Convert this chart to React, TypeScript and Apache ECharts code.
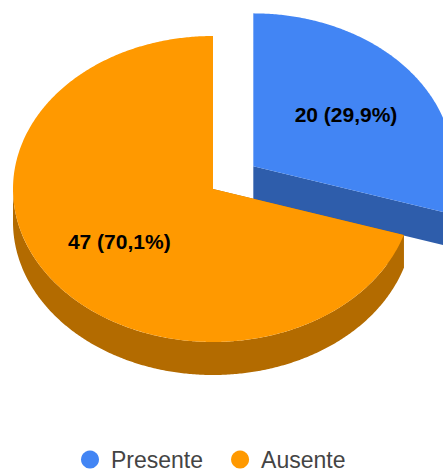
import React, { useEffect, useRef } from "react";
import * as echarts from "echarts";

// Attendance split shown as a tilted pie with one exploded slice
const categories = ["Presente", "Ausente"];
const values = [20, 47];
const topColors = ["#4285f4", "#ff9900"];
const sideColors = ["#2e5dab", "#b36b00"];

const total = values.reduce((a, b) => a + b, 0);
const CX = 213;
const CY = 189;
const RX = 200;
const RY = 153;
const DEPTH = 33;
const EXPLODE = 0.25;
const LABEL_RADIUS = 0.578;
const rad = (deg: number) => (deg * Math.PI) / 180;

function sliceAngles(index: number) {
  let start = 0;
  for (let i = 0; i < index; i++) start += (values[i] / total) * 360;
  return [start, start + (values[index] / total) * 360];
}

function renderSlice(index: number) {
  const [start, end] = sliceAngles(index);
  const mid = rad((start + end) / 2);
  const exploded = index === 0 ? EXPLODE : 0;
  const cx = CX + Math.sin(mid) * RX * exploded;
  const cy = CY - Math.cos(mid) * RY * exploded;
  const at = (deg: number, dy = 0) => [
    cx + Math.sin(rad(deg)) * RX,
    cy - Math.cos(rad(deg)) * RY + dy,
  ];
  const arc = (from: number, to: number, dy = 0) => {
    const pts: number[][] = [];
    const steps = Math.max(1, Math.ceil(Math.abs(to - from) * 2));
    for (let i = 0; i <= steps; i++) pts.push(at(from + ((to - from) * i) / steps, dy));
    return pts;
  };
  const poly = (points: number[][], fill: string) => ({
    type: "polygon",
    shape: { points },
    style: { fill },
    silent: true,
  });

  const side = sideColors[index];
  const children: any[] = [];
  // Cut faces running from the hub to the rim
  for (const deg of [start, end]) {
    children.push(
      poly([[cx, cy], at(deg), at(deg, DEPTH), [cx, cy + DEPTH]], side)
    );
  }
  // Outer wall: only the part of the rim that faces the viewer
  const wallFrom = Math.max(start, 90);
  const wallTo = Math.min(end, 270);
  if (wallTo > wallFrom) {
    children.push(
      poly([...arc(wallFrom, wallTo), ...arc(wallTo, wallFrom, DEPTH)], side)
    );
  }
  // Top face
  children.push(poly([[cx, cy], ...arc(start, end)], topColors[index]));
  // Value and share label
  const share = ((values[index] / total) * 100).toFixed(1).replace(".", ",");
  children.push({
    type: "text",
    silent: true,
    style: {
      x: cx + Math.sin(mid) * RX * LABEL_RADIUS - 0.5,
      y: cy - Math.cos(mid) * RY * LABEL_RADIUS,
      text: `${values[index]} (${share}%)`,
      fill: "#000000",
      font: 'bold 21px "Liberation Sans", Arial, sans-serif',
      align: "center",
      verticalAlign: "middle",
    },
  });
  return { type: "group", children };
}

export default function App() {
  const ref = useRef<HTMLDivElement>(null);

  useEffect(() => {
    const chart = echarts.init(ref.current!, null, { renderer: "svg" });
    chart.setOption({
      animation: false,
      backgroundColor: "#ffffff",
      legend: {
        left: 81,
        top: 448,
        padding: 0,
        data: categories,
        icon: "circle",
        itemWidth: 18,
        itemHeight: 18,
        itemGap: 28,
        selectedMode: false,
        textStyle: {
          color: "#444444",
          fontFamily: '"Liberation Sans", Arial, sans-serif',
          fontSize: 23,
          padding: [0, 0, 0, 7],
        },
      },
      series: categories.map((name, i) => ({
        type: "custom",
        name,
        coordinateSystem: "none",
        data: [values[i]],
        itemStyle: { color: topColors[i] },
        renderItem: () => renderSlice(i),
      })),
    });
    return () => chart.dispose();
  }, []);

  return (
    <div
      ref={ref}
      style={{ position: "fixed", left: 0, top: 0, width: 443, height: 471 }}
    />
  );
}
